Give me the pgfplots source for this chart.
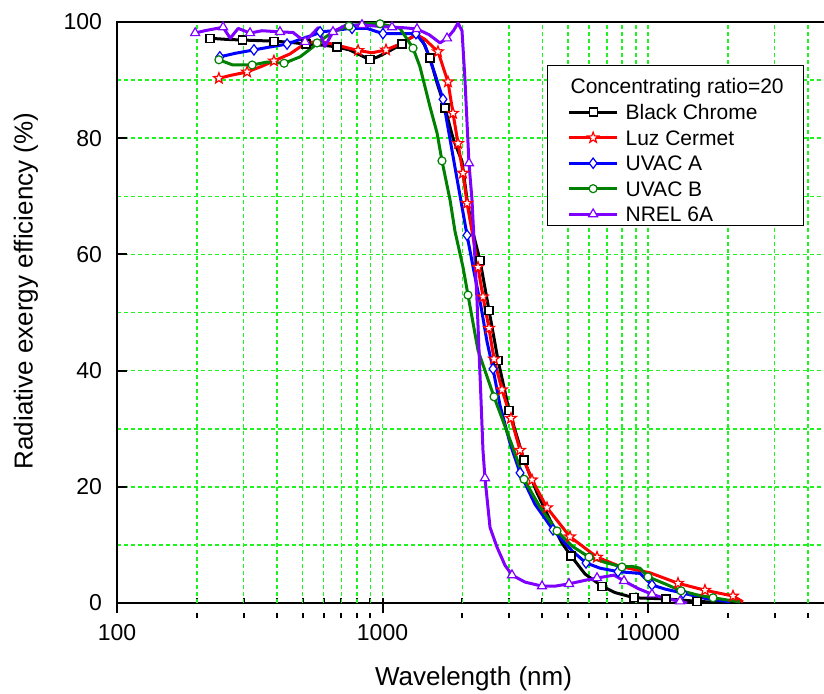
\documentclass[border=0pt]{standalone}
\usepackage{fontspec}
\setmainfont{Liberation Sans}
\usepackage{pgfplots}
\pgfplotsset{compat=1.18}
\usetikzlibrary{plotmarks}
\definecolor{cgrid}{RGB}{30,245,30}
\definecolor{cgreen}{RGB}{0,128,0}
\definecolor{cpurple}{RGB}{128,0,255}
\pgfdeclareplotmark{ostar}{%
  \pgfpathmoveto{\pgfpointpolar{90}{\pgfplotmarksize}}%
  \pgfpathlineto{\pgfpointpolar{126}{0.42\pgfplotmarksize}}%
  \pgfpathlineto{\pgfpointpolar{162}{\pgfplotmarksize}}%
  \pgfpathlineto{\pgfpointpolar{198}{0.42\pgfplotmarksize}}%
  \pgfpathlineto{\pgfpointpolar{234}{\pgfplotmarksize}}%
  \pgfpathlineto{\pgfpointpolar{270}{0.42\pgfplotmarksize}}%
  \pgfpathlineto{\pgfpointpolar{306}{\pgfplotmarksize}}%
  \pgfpathlineto{\pgfpointpolar{342}{0.42\pgfplotmarksize}}%
  \pgfpathlineto{\pgfpointpolar{18}{\pgfplotmarksize}}%
  \pgfpathlineto{\pgfpointpolar{54}{0.42\pgfplotmarksize}}%
  \pgfpathclose
  \pgfusepathqfillstroke}
\begin{document}
\begin{tikzpicture}
\begin{axis}[
  scale only axis,
  width=356.5pt, height=290.5pt,
  xmode=log,
  xmin=100, xmax=48480,
  ymin=0, ymax=100,
  xtick={100,1000,10000},
  xticklabels={100,1000,10000},
  minor x tick num=0,
  extra x ticks={200,300,400,500,600,700,800,900,2000,3000,4000,5000,6000,7000,8000,9000,20000,30000,40000},
  extra x tick labels={},
  extra x tick style={xmajorgrids=true, major tick length=2.5pt, major x tick style={yshift=-2.5pt}},
  ytick={0,20,40,60,80,100},
  minor ytick={10,30,50,70,90},
  xmajorgrids=true, xminorgrids=false,
  ymajorgrids=true, yminorgrids=true,
  every major grid/.style={cgrid, line width=0.8pt, dash pattern=on 2pt off 1.5pt},
  every minor grid/.style={cgrid, line width=0.8pt, dash pattern=on 2pt off 1.5pt},
  tick pos=left,
  major tick length=5pt,
  minor tick length=2.5pt,
  axis line style={line width=1.1pt},
  every tick/.style={black, line width=1pt},
  major x tick style={yshift=-5pt},
  minor y tick style={draw=none},
  /pgf/number format/assume math mode=true,
  ticklabel style={font=\fontsize{11.5}{13}\selectfont},
  xticklabel style={yshift=-7pt},
  yticklabel style={xshift=-4pt},
  xlabel={Wavelength (nm)},
  ylabel={Radiative exergy efficiency (\%)},
  every axis x label/.style={at={(axis description cs:0.5,0)}, yshift=-38pt, anchor=center, font=\fontsize{13}{15}\selectfont},
  every axis y label/.style={at={(axis description cs:0,0.537)}, xshift=-45.5pt, rotate=90, anchor=center, font=\fontsize{13}{15}\selectfont},
  legend style={at={(0.6031,0.926)}, anchor=north west, draw=black, line width=0.6pt, fill=white,
    font=\fontsize{10.5}{12}\selectfont, inner xsep=10pt, inner ysep=2pt, row sep=5.4pt, column sep=3.5pt,
    nodes={inner sep=0pt, text depth=0pt}},
  legend cell align=left,
  legend image code/.code={\draw[mark repeat=2,mark phase=2,#1] plot coordinates {(0pt,0pt) (12pt,0pt) (24pt,0pt)};},
]
% Black Chrome
\addplot[black, line width=1.5pt, line join=round, forget plot] coordinates {
(224,97.2) (260,97.0) (296,96.9) (340,96.8) (390,96.7) (450,96.5) (515,96.2) (600,96.0) (674,95.7) (750,95.2) (800,94.6) (897,93.5) (960,94.0) (1060,95.0) (1184,96.2) (1326,97.8) (1409,97.0) (1510,93.8) (1605,89.5) (1720,85.2) (1843,80.0) (1993,76.0) (2082,69.4) (2193,63.7) (2329,59.0) (2518,50.4) (2723,41.8) (2996,33.2) (3412,24.6) (3819,19.0) (4275,14.3) (4744,10.3) (5129,8.1) (5790,5.0) (6711,2.9) (7510,1.8) (8860,0.9) (11690,0.7) (15300,0.3) (19850,0.0)};
\addplot[only marks, mark=square*, mark size=2.0pt, mark options={fill=white, draw=black, line width=0.6pt}, forget plot] coordinates {
(224,97.2) (296,96.9) (390,96.7) (515,96.2) (674,95.7) (897,93.5) (1184,96.2) (1510,93.8) (1720,85.2) (2329,59.0) (2518,50.4) (2723,41.8) (2996,33.2) (3412,24.6) (5129,8.1) (6711,2.9) (8860,0.9) (11690,0.7) (15300,0.3)};
% Luz Cermet
\addplot[red, line width=1.5pt, line join=round, forget plot] coordinates {
(242,90.3) (267,90.8) (309,91.4) (352,92.4) (390,93.3) (448,94.5) (489,95.7) (533,96.5) (582,96.6) (634,96.3) (674,96.0) (809,95.1) (913,94.7) (1031,95.2) (1164,96.2) (1269,97.2) (1349,97.8) (1446,97.0) (1618,94.9) (1765,89.7) (1843,84.3) (1925,79.1) (2010,74.0) (2082,68.8) (2193,63.0) (2289,57.8) (2390,52.7) (2518,47.3) (2630,42.0) (2819,36.7) (3048,31.8) (3296,26.3) (3657,21.2) (4165,16.4) (5084,11.4) (6427,7.9) (7845,6.3) (10170,5.2) (12970,3.4) (16390,2.2) (20900,1.2) (22790,0.2)};
\addplot[only marks, mark=ostar, mark size=2.8pt, mark options={fill=white, draw=red, line width=0.6pt}, forget plot] coordinates {
(242,90.3) (309,91.4) (390,93.3) (809,95.1) (1031,95.2) (1618,94.9) (1765,89.7) (1843,84.3) (1925,79.1) (2010,74.0) (2082,68.8) (2289,57.8) (2390,52.7) (2518,47.3) (2630,42.0) (2819,36.7) (3048,31.8) (3296,26.3) (3657,21.2) (4165,16.4) (5084,11.4) (6427,7.9) (12970,3.4) (16390,2.2) (20900,1.2)};
% UVAC A
\addplot[blue, line width=1.5pt, line join=round, forget plot] coordinates {
(244,94.0) (278,94.6) (328,95.2) (377,95.7) (437,96.2) (489,97.0) (567,98.0) (582,98.3) (651,98.5) (754,98.9) (874,98.9) (1004,98.0) (1164,98.0) (1337,98.0) (1446,96.0) (1577,91.0) (1690,86.7) (1875,75.0) (2082,63.3) (2211,57.0) (2350,51.0) (2475,45.0) (2608,40.3) (2771,34.0) (3022,27.5) (3296,22.4) (3753,17.0) (4387,12.6) (5173,9.0) (5842,6.9) (6596,6.0) (7709,5.4) (9330,5.1) (10350,3.1) (11590,2.4) (13550,1.7) (16390,0.8) (20370,0.2)};
\addplot[only marks, mark=diamond*, mark size=2.6pt, mark options={fill=white, draw=blue, line width=0.6pt}, forget plot] coordinates {
(244,94.0) (328,95.2) (437,96.2) (582,98.3) (768,98.9) (1004,98.0) (1337,98.0) (1690,86.7) (2082,63.3) (2608,40.3) (3296,22.4) (4387,12.6) (5842,6.9) (7709,5.4) (10350,3.1) (13550,1.7)};
% UVAC B
\addplot[cgreen, line width=1.5pt, line join=round, forget plot] coordinates {
(242,93.5) (273,92.6) (323,92.6) (367,93.1) (426,92.9) (489,94.0) (547,95.7) (567,96.4) (651,98.3) (741,99.3) (874,99.7) (979,99.7) (1164,98.9) (1303,95.5) (1384,92.3) (1510,85.4) (1605,80.9) (1675,76.1) (1796,69.4) (1875,64.0) (2010,57.8) (2099,53.0) (2289,43.5) (2630,35.5) (3101,26.7) (3412,21.3) (3920,16.5) (4542,12.4) (5173,9.8) (5996,7.9) (6887,7.0) (7980,6.2) (8700,6.3) (9330,6.0) (10000,4.5) (11590,3.3) (13310,2.1) (15300,1.4) (17580,0.9) (20020,0.5) (22220,0.2)};
\addplot[only marks, mark=*, mark size=2.0pt, mark options={fill=white, draw=cgreen, line width=0.6pt}, forget plot] coordinates {
(242,93.5) (323,92.6) (426,92.9) (567,96.4) (748,99.3) (979,99.7) (1303,95.5) (1675,76.1) (2099,53.0) (2630,35.5) (3412,21.3) (4542,12.4) (5996,7.9) (7980,6.2) (10000,4.5) (13310,2.1) (17580,0.9)};
% NREL 6A
\addplot[cpurple, line width=1.5pt, line join=round, forget plot] coordinates {
(197,98.1) (214,98.5) (251,99.1) (267,97.2) (286,98.9) (317,98.1) (352,98.5) (411,98.3) (460,98.2) (511,96.6) (572,99.0) (607,95.8) (651,98.3) (723,99.4) (837,99.5) (1000,99.2) (1086,99.1) (1215,99.0) (1349,98.8) (1500,97.8) (1647,96.4) (1750,97.2) (1850,98.5) (1925,99.8) (1993,98.5) (2045,90.0) (2117,75.7) (2173,69.4) (2269,52.2) (2350,34.9) (2390,26.3) (2432,21.5) (2541,13.0) (2700,9.6) (2893,6.5) (3074,4.8) (3442,3.6) (3988,2.9) (4464,2.9) (5040,3.3) (5790,3.9) (6427,4.3) (7447,4.8) (8120,3.8) (9170,2.5) (10350,1.5) (11590,0.8) (13200,0.3) (14030,0.0)};
\addplot[only marks, mark=triangle*, mark size=2.6pt, mark options={fill=white, draw=cpurple, line width=0.6pt}, forget plot] coordinates {
(197,98.1) (251,99.1) (317,98.1) (411,98.3) (511,96.6) (651,98.3) (837,99.5) (1086,99.1) (1349,98.8) (1750,97.2) (2117,75.7) (2432,21.5) (3074,4.8) (3988,2.9) (5040,3.3) (6427,4.3) (8120,3.8) (10350,1.5) (13200,0.3)};
% legend
\addlegendimage{empty legend}
\addlegendentry{\hspace{-27.5pt}\rule{0pt}{12pt}Concentrating ratio=20\hspace{-3.5pt}}
\addlegendimage{black, line width=1.5pt, mark=square*, mark size=2.0pt, mark options={fill=white, line width=0.6pt}}
\addlegendentry{Black Chrome}
\addlegendimage{red, line width=1.5pt, mark=ostar, mark size=2.8pt, mark options={fill=white, line width=0.6pt}}
\addlegendentry{Luz Cermet}
\addlegendimage{blue, line width=1.5pt, mark=diamond*, mark size=2.6pt, mark options={fill=white, line width=0.6pt}}
\addlegendentry{UVAC A}
\addlegendimage{cgreen, line width=1.5pt, mark=*, mark size=2.0pt, mark options={fill=white, line width=0.6pt}}
\addlegendentry{UVAC B}
\addlegendimage{cpurple, line width=1.5pt, mark=triangle*, mark size=2.6pt, mark options={fill=white, line width=0.6pt}}
\addlegendentry{NREL 6A}
\end{axis}
\pgfresetboundingbox
\path[use as bounding box] ([xshift=-58.5pt,yshift=-45pt]current axis.south west) rectangle ([xshift=353.5pt,yshift=301.5pt]current axis.south west);
\end{tikzpicture}
\end{document}
